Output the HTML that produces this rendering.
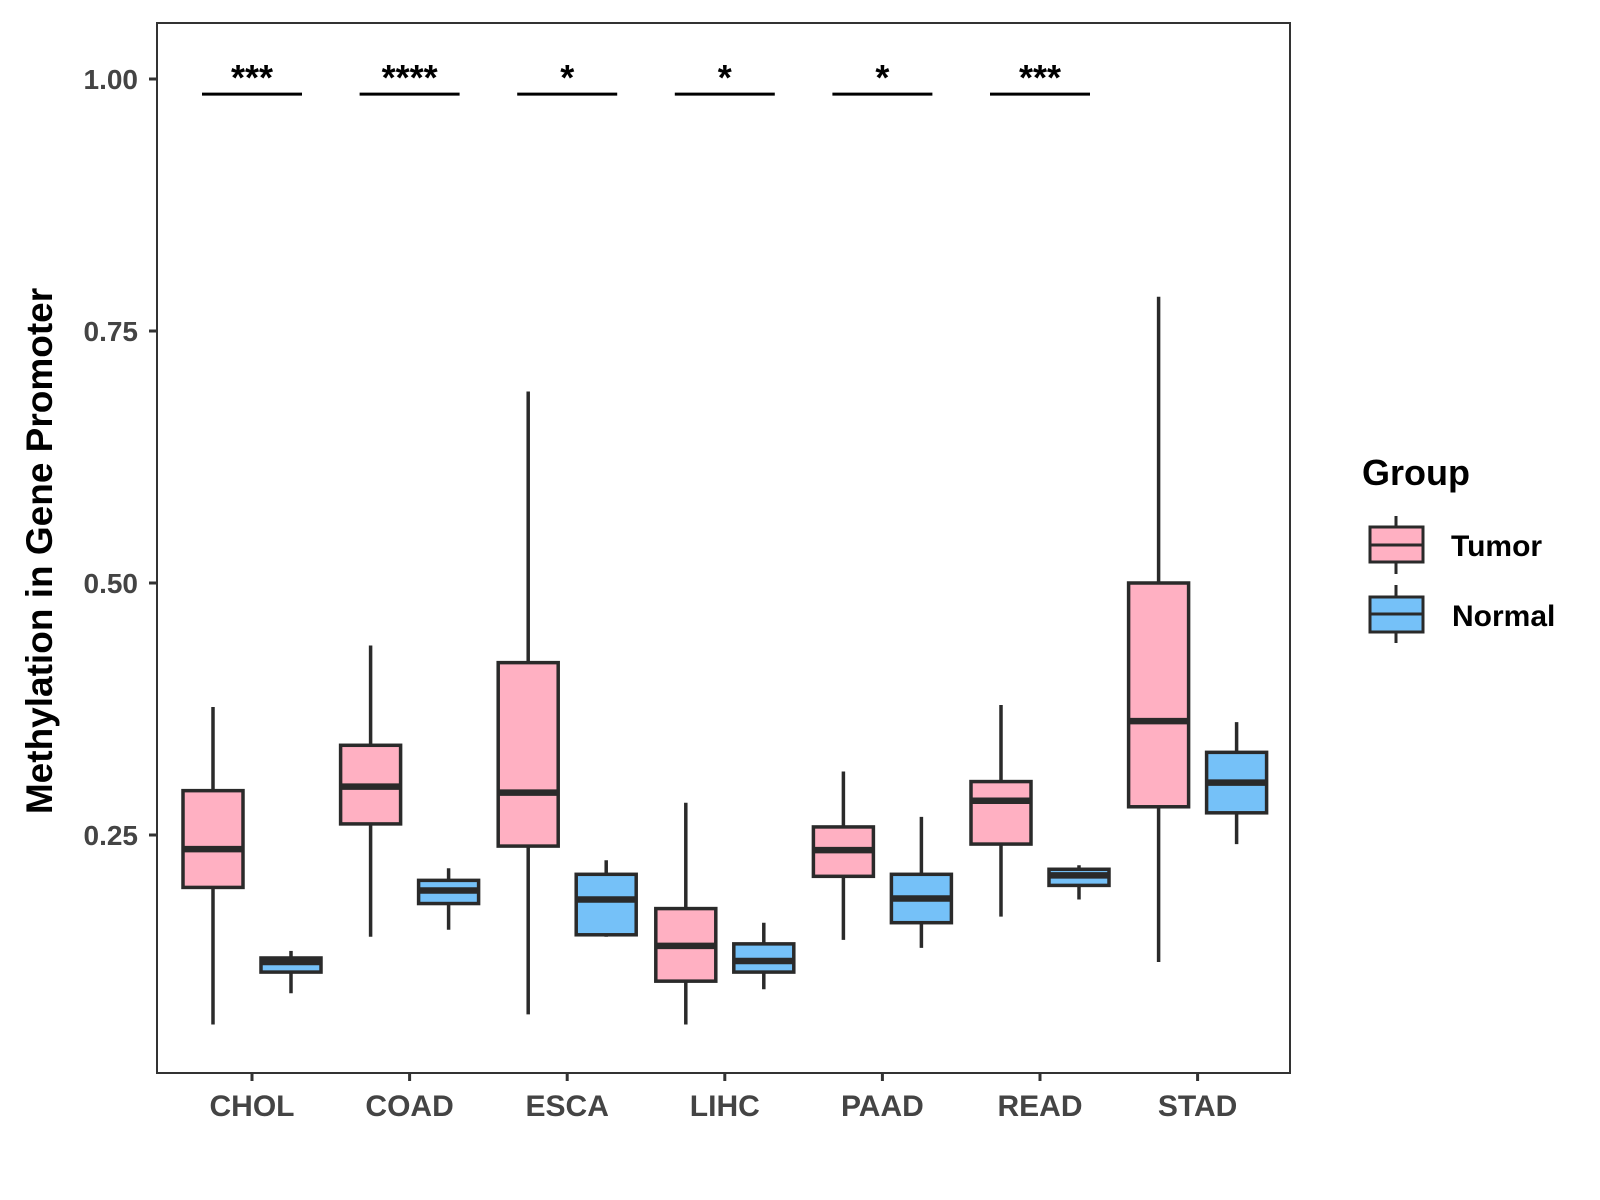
<!DOCTYPE html>
<html><head><meta charset="utf-8"><style>body{margin:0;background:#fff}svg{display:block;font-family:"Liberation Sans",sans-serif}</style></head>
<body>
<svg id="chart" width="1600" height="1200" viewBox="0 0 1600 1200">
<rect x="157" y="23" width="1133" height="1050" fill="#fff" stroke="#333" stroke-width="2"/>
<text transform="translate(52,551) rotate(-90)" text-anchor="middle" font-size="37" font-weight="bold" fill="#000">Methylation in Gene Promoter</text>
<g>
<text x="1362" y="485" font-size="36" font-weight="bold">Group</text>
<g>
<line x1="1396" y1="516" x2="1396" y2="574" stroke="#2a2a2a" stroke-width="3"/>
<rect x="1370" y="527" width="53" height="35" fill="#FFB0C2" stroke="#2a2a2a" stroke-width="3"/>
<line x1="1370" y1="545" x2="1423" y2="545" stroke="#2a2a2a" stroke-width="3"/>
<text x="1451" y="556" font-size="30" font-weight="bold">Tumor</text></g>
<g>
<line x1="1396" y1="585" x2="1396" y2="643" stroke="#2a2a2a" stroke-width="3"/>
<rect x="1370" y="597" width="53" height="35" fill="#75C1F8" stroke="#2a2a2a" stroke-width="3"/>
<line x1="1370" y1="614" x2="1423" y2="614" stroke="#2a2a2a" stroke-width="3"/>
<text x="1452" y="626" font-size="30" font-weight="bold">Normal</text></g>
</g>
<g id="marks"></g>
</svg>
<script>
const categories=["CHOL","COAD","ESCA","LIHC","PAAD","READ","STAD"];
const tumorLow=[0.062,0.149,0.072,0.062,0.146,0.169,0.124];
const tumorQ1=[0.198,0.261,0.239,0.105,0.209,0.241,0.278];
const tumorMed=[0.236,0.298,0.292,0.140,0.235,0.284,0.363];
const tumorQ3=[0.294,0.339,0.421,0.177,0.258,0.303,0.500];
const tumorHigh=[0.377,0.438,0.690,0.282,0.313,0.379,0.784];
const normalLow=[0.093,0.156,0.149,0.097,0.138,0.186,0.241];
const normalQ1=[0.114,0.182,0.151,0.114,0.163,0.200,0.272];
const normalMed=[0.124,0.195,0.186,0.125,0.187,0.210,0.302];
const normalQ3=[0.128,0.205,0.211,0.142,0.211,0.216,0.332];
const normalHigh=[0.135,0.217,0.225,0.163,0.268,0.220,0.362];
const sigLabels=["***","****","*","*","*","***",""];
const yTicks=[0.25,0.50,0.75,1.00];
const yTickLabels=["0.25","0.50","0.75","1.00"];
const bracketY=0.985;

const NS="http://www.w3.org/2000/svg";
const g=document.getElementById('marks');
function y(v){return 79+(1-v)*1008;}
function x(i){return 252+i*157.6;}
function el(t,a,p){const e=document.createElementNS(NS,t);for(const k in a)e.setAttribute(k,a[k]);(p||g).appendChild(e);return e;}
yTicks.forEach((v,i)=>{
  const t=el('line',{x1:149,x2:157,y1:y(v),y2:y(v),stroke:'#333','stroke-width':3});
  
  
  const l=el('text',{x:138,y:y(v)+10,'text-anchor':'end','font-size':28,'font-weight':'bold',fill:'#444'});
  l.textContent=yTickLabels[i];
  
  
});
function box(cx,lo,q1,md,q3,hi,fill,name){
  const grp=el('g',{});
  
  
  el('line',{x1:cx,x2:cx,y1:y(hi),y2:y(lo),stroke:'#2a2a2a','stroke-width':3.5},grp);
  el('rect',{x:cx-30,y:y(q3),width:60,height:y(q1)-y(q3),fill:fill,stroke:'#2a2a2a','stroke-width':3.5},grp);
  el('line',{x1:cx-30,x2:cx+30,y1:y(md),y2:y(md),stroke:'#2a2a2a','stroke-width':6.5},grp);
}
categories.forEach((c,i)=>{
  const cx=x(i);
  box(cx-39,tumorLow[i],tumorQ1[i],tumorMed[i],tumorQ3[i],tumorHigh[i],'#FFB0C2','box-tumor-'+c.toLowerCase());
  box(cx+39,normalLow[i],normalQ1[i],normalMed[i],normalQ3[i],normalHigh[i],'#75C1F8','box-normal-'+c.toLowerCase());
  const t=el('line',{x1:cx,x2:cx,y1:1073,y2:1081,stroke:'#333','stroke-width':3});
  
  
  const l=el('text',{x:cx,y:1116,'text-anchor':'middle','font-size':30,'font-weight':'bold',fill:'#444'});
  l.textContent=c;
  
  
  if(sigLabels[i]){
    const b=el('line',{x1:cx-50,x2:cx+50,y1:y(bracketY),y2:y(bracketY),stroke:'#000','stroke-width':3});
    
    
    const s=el('text',{x:cx,y:y(bracketY)-4,'text-anchor':'middle','font-size':36,'font-weight':'bold',fill:'#000'});
    s.textContent=sigLabels[i];
    
    
  }
});
</script>
</body></html>
